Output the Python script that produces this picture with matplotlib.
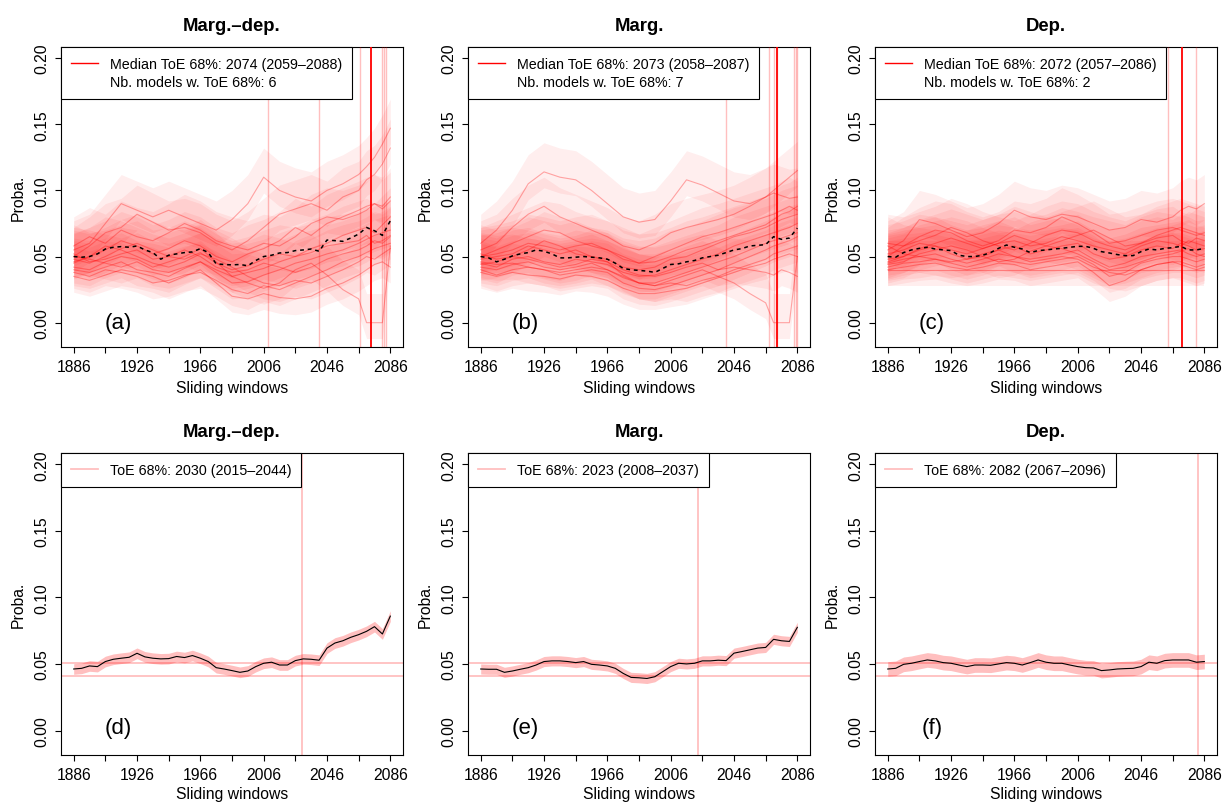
import matplotlib
matplotlib.use("Agg")
import matplotlib.pyplot as plt
from matplotlib.lines import Line2D
import numpy as np

plt.rcParams["font.family"] = ["Liberation Sans", "DejaVu Sans"]

# ---- data ----
years_models = [1886, 1896, 1906, 1916, 1926, 1936, 1946, 1956, 1966, 1976, 1986,
                1996, 2006, 2016, 2026, 2036, 2046, 2056, 2066, 2071, 2076, 2081, 2086]
years_5 = np.arange(1886, 2087, 5)

titles = ["Marg.\u2013dep.", "Marg.", "Dep."]
letters_top = ["(a)", "(b)", "(c)"]
letters_bottom = ["(d)", "(e)", "(f)"]

# panel (a): model curves
models_a = [
    [0.055, 0.060, 0.075, 0.090, 0.085, 0.080, 0.085, 0.080, 0.075, 0.070, 0.078, 0.090, 0.110, 0.100, 0.095, 0.092, 0.100, 0.105, 0.112, 0.118, 0.125, 0.135, 0.147],
    [0.050, 0.058, 0.068, 0.072, 0.082, 0.076, 0.070, 0.072, 0.068, 0.060, 0.055, 0.062, 0.072, 0.082, 0.086, 0.090, 0.085, 0.095, 0.100, 0.108, 0.112, 0.120, 0.132],
    [0.045, 0.050, 0.055, 0.062, 0.058, 0.052, 0.056, 0.062, 0.058, 0.050, 0.046, 0.052, 0.056, 0.062, 0.072, 0.066, 0.075, 0.080, 0.085, 0.088, 0.090, 0.086, 0.092],
    [0.048, 0.045, 0.050, 0.056, 0.060, 0.055, 0.050, 0.048, 0.053, 0.045, 0.040, 0.043, 0.048, 0.052, 0.050, 0.056, 0.060, 0.066, 0.070, 0.072, 0.068, 0.074, 0.080],
    [0.042, 0.040, 0.046, 0.050, 0.048, 0.042, 0.046, 0.050, 0.056, 0.046, 0.035, 0.038, 0.041, 0.046, 0.050, 0.053, 0.058, 0.060, 0.062, 0.066, 0.060, 0.062, 0.066],
    [0.040, 0.038, 0.042, 0.046, 0.040, 0.038, 0.035, 0.041, 0.046, 0.038, 0.030, 0.031, 0.036, 0.040, 0.045, 0.048, 0.052, 0.055, 0.060, 0.063, 0.066, 0.068, 0.070],
    [0.038, 0.035, 0.040, 0.038, 0.035, 0.030, 0.032, 0.036, 0.038, 0.032, 0.025, 0.022, 0.028, 0.025, 0.030, 0.035, 0.040, 0.046, 0.050, 0.053, 0.056, 0.058, 0.060],
    [0.035, 0.032, 0.036, 0.040, 0.038, 0.035, 0.030, 0.035, 0.040, 0.030, 0.020, 0.018, 0.022, 0.019, 0.018, 0.020, 0.026, 0.030, 0.036, 0.040, 0.044, 0.046, 0.042],
    [0.050, 0.048, 0.045, 0.042, 0.046, 0.040, 0.038, 0.042, 0.046, 0.040, 0.035, 0.030, 0.026, 0.030, 0.040, 0.045, 0.036, 0.025, 0.018, 0.000, 0.000, 0.000, 0.058],
    [0.058, 0.065, 0.060, 0.070, 0.065, 0.062, 0.068, 0.075, 0.070, 0.062, 0.058, 0.055, 0.060, 0.058, 0.065, 0.075, 0.080, 0.078, 0.082, 0.085, 0.090, 0.088, 0.095],
    [0.052, 0.046, 0.048, 0.052, 0.055, 0.048, 0.050, 0.055, 0.050, 0.042, 0.038, 0.040, 0.045, 0.042, 0.038, 0.042, 0.048, 0.052, 0.055, 0.058, 0.062, 0.060, 0.065],
    [0.046, 0.050, 0.058, 0.055, 0.050, 0.045, 0.042, 0.046, 0.052, 0.048, 0.042, 0.035, 0.030, 0.028, 0.032, 0.030, 0.035, 0.040, 0.046, 0.050, 0.048, 0.052, 0.056],
]
median_a = [0.050, 0.0495, 0.050, 0.052, 0.0557, 0.057, 0.0575, 0.057, 0.058, 0.055,
            0.053, 0.048, 0.051, 0.052, 0.053, 0.0535, 0.056, 0.053, 0.0445, 0.044,
            0.0437, 0.044, 0.043, 0.047, 0.050, 0.051, 0.0527, 0.053, 0.0545, 0.055,
            0.0557, 0.054, 0.0625, 0.062, 0.0615, 0.064, 0.067, 0.072, 0.0695, 0.066, 0.077]
toe_models_a = [2009, 2041, 2067, 2081, 2082, 2083]
toe_median_a = 2074
legend_a = ["Median ToE 68%: 2074 (2059\u20132088)", "Nb. models w. ToE 68%: 6"]

# panel (b)
models_b = [
    [0.060, 0.070, 0.085, 0.105, 0.114, 0.110, 0.108, 0.100, 0.090, 0.080, 0.076, 0.078, 0.092, 0.108, 0.104, 0.098, 0.092, 0.090, 0.095, 0.098, 0.096, 0.094, 0.095],
    [0.055, 0.060, 0.072, 0.082, 0.088, 0.080, 0.075, 0.070, 0.065, 0.058, 0.055, 0.060, 0.068, 0.072, 0.075, 0.078, 0.082, 0.088, 0.095, 0.100, 0.105, 0.110, 0.115],
    [0.050, 0.055, 0.060, 0.065, 0.070, 0.068, 0.062, 0.058, 0.055, 0.048, 0.045, 0.050, 0.055, 0.060, 0.065, 0.068, 0.072, 0.076, 0.080, 0.082, 0.085, 0.088, 0.085],
    [0.048, 0.050, 0.052, 0.058, 0.055, 0.052, 0.055, 0.050, 0.048, 0.042, 0.040, 0.042, 0.048, 0.050, 0.055, 0.060, 0.065, 0.068, 0.072, 0.075, 0.078, 0.080, 0.082],
    [0.045, 0.042, 0.048, 0.050, 0.046, 0.044, 0.048, 0.046, 0.044, 0.038, 0.035, 0.036, 0.040, 0.044, 0.048, 0.052, 0.058, 0.062, 0.066, 0.068, 0.070, 0.072, 0.075],
    [0.042, 0.040, 0.044, 0.046, 0.042, 0.040, 0.042, 0.045, 0.040, 0.034, 0.030, 0.030, 0.034, 0.038, 0.042, 0.046, 0.050, 0.055, 0.060, 0.062, 0.064, 0.066, 0.068],
    [0.040, 0.036, 0.040, 0.042, 0.040, 0.036, 0.038, 0.040, 0.038, 0.030, 0.026, 0.025, 0.028, 0.032, 0.036, 0.040, 0.045, 0.050, 0.055, 0.058, 0.060, 0.062, 0.065],
    [0.038, 0.035, 0.038, 0.036, 0.035, 0.033, 0.036, 0.035, 0.032, 0.026, 0.022, 0.022, 0.024, 0.026, 0.030, 0.034, 0.038, 0.042, 0.045, 0.048, 0.050, 0.052, 0.050],
    [0.046, 0.044, 0.045, 0.042, 0.040, 0.038, 0.040, 0.042, 0.040, 0.035, 0.030, 0.028, 0.032, 0.036, 0.040, 0.035, 0.030, 0.022, 0.015, 0.000, 0.000, 0.000, 0.050],
    [0.052, 0.048, 0.050, 0.055, 0.062, 0.058, 0.052, 0.050, 0.046, 0.040, 0.036, 0.035, 0.038, 0.042, 0.045, 0.040, 0.042, 0.040, 0.038, 0.036, 0.040, 0.038, 0.035],
    [0.044, 0.046, 0.050, 0.048, 0.045, 0.042, 0.044, 0.048, 0.046, 0.036, 0.030, 0.028, 0.030, 0.028, 0.032, 0.035, 0.040, 0.044, 0.048, 0.052, 0.054, 0.056, 0.058],
    [0.050, 0.052, 0.055, 0.060, 0.058, 0.055, 0.058, 0.060, 0.055, 0.050, 0.045, 0.046, 0.050, 0.055, 0.058, 0.062, 0.066, 0.070, 0.074, 0.078, 0.082, 0.084, 0.088],
]
median_b = [0.050, 0.049, 0.046, 0.048, 0.0505, 0.052, 0.053, 0.055, 0.054, 0.052,
            0.049, 0.049, 0.0495, 0.050, 0.0495, 0.049, 0.048, 0.045, 0.041, 0.040,
            0.0395, 0.039, 0.038, 0.041, 0.044, 0.0445, 0.046, 0.047, 0.049, 0.050,
            0.051, 0.053, 0.055, 0.056, 0.058, 0.0585, 0.059, 0.065, 0.063, 0.064, 0.0715]
toe_models_b = [2041, 2068, 2071, 2073, 2084, 2085, 2086]
toe_median_b = 2073
legend_b = ["Median ToE 68%: 2073 (2058\u20132087)", "Nb. models w. ToE 68%: 7"]

# panel (c)
models_c = [
    [0.055, 0.062, 0.078, 0.075, 0.070, 0.065, 0.068, 0.075, 0.085, 0.080, 0.078, 0.082, 0.080, 0.075, 0.070, 0.072, 0.078, 0.076, 0.080, 0.085, 0.088, 0.086, 0.090],
    [0.060, 0.058, 0.065, 0.070, 0.068, 0.062, 0.058, 0.062, 0.070, 0.068, 0.072, 0.080, 0.075, 0.068, 0.060, 0.062, 0.066, 0.070, 0.072, 0.070, 0.068, 0.066, 0.068],
    [0.052, 0.055, 0.060, 0.058, 0.055, 0.052, 0.056, 0.060, 0.062, 0.058, 0.060, 0.065, 0.062, 0.058, 0.055, 0.052, 0.058, 0.062, 0.060, 0.058, 0.062, 0.060, 0.058],
    [0.048, 0.050, 0.055, 0.058, 0.052, 0.048, 0.050, 0.055, 0.058, 0.052, 0.055, 0.058, 0.060, 0.052, 0.048, 0.050, 0.055, 0.058, 0.056, 0.060, 0.058, 0.055, 0.056],
    [0.045, 0.048, 0.050, 0.052, 0.048, 0.045, 0.048, 0.052, 0.050, 0.048, 0.050, 0.052, 0.055, 0.048, 0.042, 0.045, 0.050, 0.052, 0.054, 0.055, 0.052, 0.050, 0.052],
    [0.042, 0.045, 0.046, 0.048, 0.045, 0.042, 0.045, 0.048, 0.046, 0.044, 0.046, 0.048, 0.050, 0.044, 0.035, 0.038, 0.045, 0.048, 0.050, 0.050, 0.048, 0.046, 0.048],
    [0.040, 0.042, 0.044, 0.045, 0.042, 0.040, 0.042, 0.045, 0.044, 0.040, 0.042, 0.044, 0.046, 0.038, 0.028, 0.032, 0.040, 0.044, 0.046, 0.046, 0.044, 0.042, 0.044],
    [0.050, 0.058, 0.062, 0.066, 0.072, 0.068, 0.062, 0.058, 0.055, 0.060, 0.066, 0.070, 0.068, 0.062, 0.058, 0.055, 0.060, 0.064, 0.066, 0.062, 0.060, 0.064, 0.062],
    [0.044, 0.046, 0.052, 0.055, 0.058, 0.055, 0.050, 0.046, 0.048, 0.054, 0.058, 0.056, 0.052, 0.046, 0.040, 0.042, 0.046, 0.050, 0.052, 0.054, 0.056, 0.052, 0.050],
    [0.058, 0.052, 0.050, 0.048, 0.046, 0.048, 0.052, 0.055, 0.050, 0.046, 0.048, 0.050, 0.048, 0.042, 0.038, 0.036, 0.040, 0.044, 0.046, 0.044, 0.042, 0.040, 0.042],
    [0.040, 0.040, 0.040, 0.040, 0.040, 0.040, 0.040, 0.040, 0.040, 0.040, 0.040, 0.040, 0.040, 0.040, 0.040, 0.040, 0.040, 0.040, 0.040, 0.040, 0.040, 0.040, 0.040],
    [0.046, 0.050, 0.056, 0.060, 0.064, 0.060, 0.056, 0.060, 0.066, 0.062, 0.058, 0.062, 0.066, 0.070, 0.064, 0.058, 0.060, 0.066, 0.070, 0.072, 0.070, 0.068, 0.066],
]
median_c = [0.050, 0.0495, 0.053, 0.055, 0.0562, 0.057, 0.0557, 0.055, 0.0545, 0.051,
            0.050, 0.050, 0.051, 0.053, 0.0562, 0.0587, 0.057, 0.0557, 0.053, 0.0545,
            0.055, 0.0557, 0.0562, 0.057, 0.0577, 0.0577, 0.0562, 0.0537, 0.0527, 0.0515,
            0.0507, 0.0507, 0.0537, 0.0557, 0.055, 0.0562, 0.0567, 0.0577, 0.055, 0.055, 0.0562]
toe_models_c = [2063, 2081]
toe_median_c = 2072
legend_c = ["Median ToE 68%: 2072 (2057\u20132086)", "Nb. models w. ToE 68%: 2"]

# model confidence bands (offsets below / above each curve)
band_below = 0.012
band_above = 0.022

# bottom row: observed series (5-year steps)
obs_d = [0.0462, 0.0467, 0.0485, 0.048, 0.0518, 0.0535, 0.0543, 0.055, 0.058, 0.0553,
         0.0543, 0.0538, 0.054, 0.0556, 0.0548, 0.0563, 0.0543, 0.0518, 0.0472, 0.0462,
         0.045, 0.0437, 0.0447, 0.048, 0.0505, 0.0513, 0.0492, 0.0492, 0.0525, 0.0538,
         0.0535, 0.0528, 0.0619, 0.0657, 0.0674, 0.070, 0.072, 0.0745, 0.078, 0.0725, 0.0859]
obs_e = [0.0462, 0.046, 0.046, 0.0437, 0.0447, 0.046, 0.0472, 0.0492, 0.0518, 0.0523,
         0.0523, 0.0518, 0.051, 0.0518, 0.0497, 0.0492, 0.0485, 0.0467, 0.0429, 0.0399,
         0.0396, 0.0391, 0.0404, 0.0442, 0.048, 0.0505, 0.050, 0.0505, 0.0523, 0.0523,
         0.0528, 0.0525, 0.0581, 0.0593, 0.0606, 0.0619, 0.0624, 0.0685, 0.0674, 0.0669, 0.0775]
obs_f = [0.0462, 0.0467, 0.0497, 0.0505, 0.0518, 0.053, 0.0523, 0.051, 0.0505, 0.0492,
         0.048, 0.0492, 0.0492, 0.049, 0.050, 0.051, 0.0505, 0.0492, 0.051, 0.053,
         0.0513, 0.0505, 0.0505, 0.0492, 0.048, 0.0472, 0.047, 0.045, 0.0455, 0.0462,
         0.0465, 0.0467, 0.048, 0.0513, 0.0505, 0.0525, 0.053, 0.053, 0.053, 0.0513, 0.0518]
obs_halfwidth = [0.004, 0.0038, 0.0055]
obs_hlines = [0.051, 0.0407]
obs_toe = [2030, 2023, 2082]
obs_legend = ["ToE 68%: 2030 (2015\u20132044)", "ToE 68%: 2023 (2008\u20132037)",
              "ToE 68%: 2082 (2067\u20132096)"]

# ---- styling ----
RED_BAND = (1, 0, 0, 0.065)
RED_LINE = (1, 0, 0, 0.32)
RED_TOE = (1, 0, 0, 0.25)
PINK = (1, 0, 0, 0.25)


def setup_axes(ax, title, letter, letter_y, xpad):
    ax.set_xlim(1878, 2094)
    ax.set_ylim(-0.0184, 0.2084)
    xt = list(range(1886, 2087, 20))
    ax.set_xticks(xt)
    ax.set_xticklabels([str(y) if (y - 1886) % 40 == 0 else "" for y in xt])
    yt = [0.0, 0.05, 0.10, 0.15, 0.20]
    ax.set_yticks(yt)
    ax.set_yticklabels(["%.2f" % v for v in yt], rotation=90, va="center")
    ax.tick_params(direction="out", length=4.3, width=0.8, labelsize=11.3, pad=4,
                   top=False, right=False)
    for s in ax.spines.values():
        s.set_linewidth(0.8)
    ax.set_title(title, fontsize=13.3, fontweight="bold", pad=12)
    ax.set_xlabel("Sliding windows", fontsize=11.3, labelpad=xpad)
    ax.set_ylabel("Proba.", fontsize=11.3, labelpad=6)
    ax.text(0.167, letter_y, letter, transform=ax.transAxes, ha="center", va="center",
            fontsize=16)


def add_legend(ax, handles, labels):
    leg = ax.legend(handles, labels, loc="upper left", borderaxespad=0, frameon=True,
                    fancybox=False, edgecolor="black", framealpha=1, fontsize=10.3,
                    handlelength=1.9, handletextpad=0.8, borderpad=0.7, labelspacing=0.3)
    leg.get_frame().set_linewidth(0.8)
    leg.set_zorder(10)


def plot_models(ax, models, median, toes, toe_median, labels):
    for m in models:
        m = np.array(m)
        ax.fill_between(years_models, m - band_below, m + band_above, color=RED_BAND,
                        lw=0, zorder=1)
    for m in models:
        ax.plot(years_models, m, color=RED_LINE, lw=0.8, zorder=2)
    for t in toes:
        ax.axvline(t, color=RED_TOE, lw=1, zorder=3)
    ax.axvline(toe_median, color="red", lw=1.3, zorder=3)
    ax.plot(years_5, median, color="black", lw=1.1, ls=(0, (2.5, 2.5)), zorder=4)
    handles = [Line2D([], [], color="red", lw=1), Line2D([], [], color="none")]
    add_legend(ax, handles, labels)


def plot_obs(ax, obs, hw, toe, label):
    obs = np.array(obs)
    ax.fill_between(years_5, obs - hw, obs + hw, color=PINK, lw=0, zorder=1)
    for h in obs_hlines:
        ax.axhline(h, color=PINK, lw=1.3, zorder=2)
    ax.axvline(toe, color=PINK, lw=1.3, zorder=2)
    ax.plot(years_5, obs, color="black", lw=0.8, zorder=3)
    add_legend(ax, [Line2D([], [], color=PINK, lw=1.3)], [label])


fig = plt.figure(figsize=(12.23, 8.03), dpi=100)
lefts = [0.0499, 0.3827, 0.7155]
width = 0.2796

top_data = [
    (models_a, median_a, toe_models_a, toe_median_a, legend_a),
    (models_b, median_b, toe_models_b, toe_median_b, legend_b),
    (models_c, median_c, toe_models_c, toe_median_c, legend_c),
]
obs_all = [obs_d, obs_e, obs_f]

for i in range(3):
    ax = fig.add_axes([lefts[i], 0.5666, width, 0.3736])
    setup_axes(ax, titles[i], letters_top[i], 0.083, 4.5)
    plot_models(ax, *top_data[i])

    ax = fig.add_axes([lefts[i], 0.0585, width, 0.3761])
    setup_axes(ax, titles[i], letters_bottom[i], 0.09, 3.5)
    plot_obs(ax, obs_all[i], obs_halfwidth[i], obs_toe[i], obs_legend[i])

fig.savefig("out.png", dpi=100)
